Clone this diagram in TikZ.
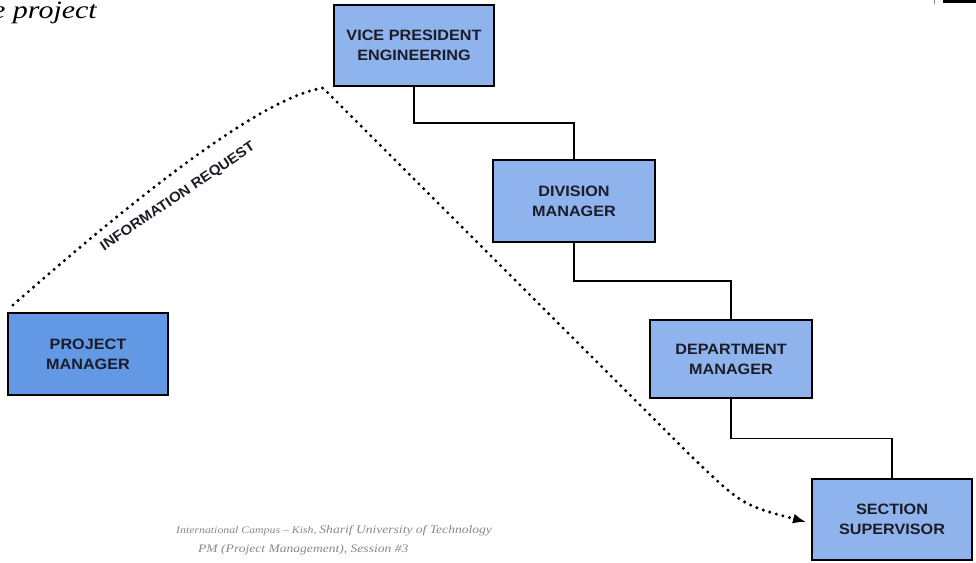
\documentclass[tikz,border=0pt]{standalone}
\usepackage{fontspec}
\usetikzlibrary{arrows.meta,calc}
\newfontfamily\boxfont{Liberation Sans}[FakeStretch=1.08]
\newfontfamily\serifst{Liberation Serif}[FakeStretch=1.18,Ligatures=TeX]
\newfontfamily\titlefont{Liberation Serif}[FakeStretch=1.2]
\definecolor{boxblue}{RGB}{143,179,236}
\definecolor{pmblue}{RGB}{98,152,228}
\definecolor{boxtext}{RGB}{28,28,40}
\definecolor{footgray}{RGB}{135,135,135}
\begin{document}
\begin{tikzpicture}[x=1pt,y=-1pt,
  orgbox/.style={draw=black,line width=1.6pt,fill=boxblue,minimum width=160pt,minimum height=81pt,inner sep=0pt,align=center,text=boxtext,font=\boxfont\bfseries\fontsize{15}{20}\selectfont},
  link/.style={line width=1.6pt},
  infopath/.style={line width=3.4pt,line cap=round,dash pattern=on 0pt off 6.8pt},
  foot/.style={anchor=base west,inner sep=0pt,text=footgray,font=\serifst\itshape\fontsize{11.5}{13}\selectfont}]
\useasboundingbox (0,0) rectangle (976,562);
% fragments at the top
\node[anchor=base east,inner sep=0pt,font=\titlefont\itshape\fontsize{25}{28}\selectfont] (title) at (97,18) {the project};
\fill[black] (943,0) rectangle (976,3);
\draw[gray,line width=1pt] (934,0) -- (934,4);
% boxes
\node[orgbox] (vp) at (414,45.5) {VICE PRESIDENT\\ENGINEERING};
\node[orgbox,minimum width=162pt,minimum height=82pt] (div) at (574,201) {DIVISION\\MANAGER};
\node[orgbox,minimum width=162pt,minimum height=78pt] (dept) at (731,359) {DEPARTMENT\\MANAGER};
\node[orgbox] (sec) at (892,519.5) {SECTION\\SUPERVISOR};
\node[orgbox,fill=pmblue,minimum height=82pt] (pm) at (88,354) {PROJECT\\MANAGER};
% hierarchy connectors
\draw[link] (vp.south) |- ($(vp.south)!.5!(div.north)$) -| (div.north);
\draw[link] (div.south) |- ($(div.south)!.5!(dept.north)$) -| (dept.north);
\draw[link] (dept.south) |- ($(dept.south)!.5!(sec.north)$) -| (sec.north);
% information request path
\coordinate (start) at (13,305);
\coordinate (peak) at (323,88);
\coordinate (bend) at (690,455);
\coordinate (tip) at (806,522);
\draw[infopath,-{Latex[length=13pt,width=10pt]}] (start) .. controls (110,220) and (255,98) .. (peak) -- (bend) .. controls (742,505) .. (tip);
\node[rotate=34,inner sep=0pt,text=boxtext,font=\boxfont\bfseries\fontsize{14}{16}\selectfont] (req) at (178,197) {INFORMATION REQUEST};
% footer
\node[foot] (f1) at (176,533) {{\fontsize{10}{12}\selectfont International Campus – Kish, }Sharif University of Technology};
\node[foot] (f2) at (198,552) {PM (Project Management), Session \#3};
\end{tikzpicture}
\end{document}
